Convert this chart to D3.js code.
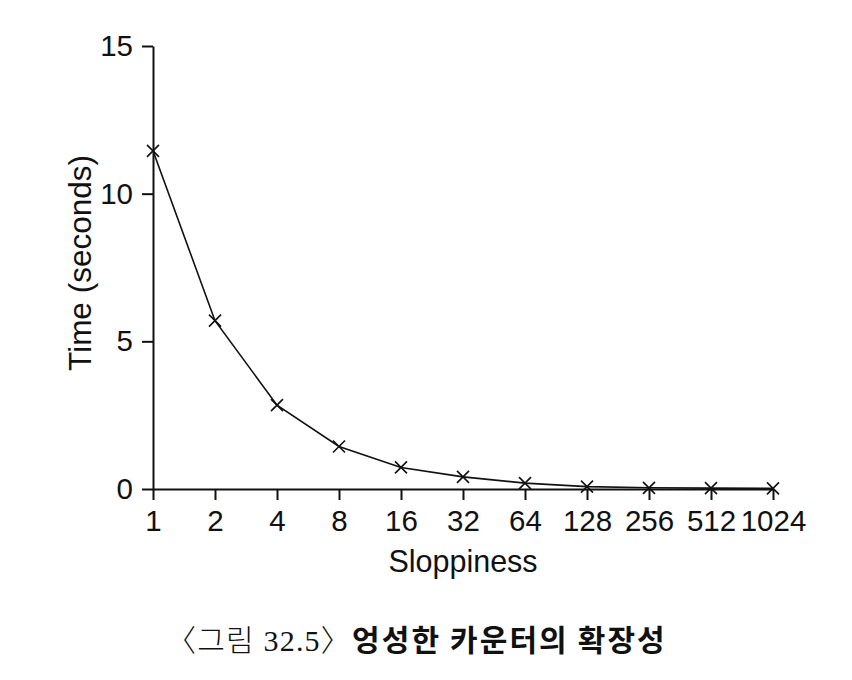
<!DOCTYPE html>
<html>
<head>
<meta charset="utf-8">
<script src="https://cdn.jsdelivr.net/npm/d3@7"></script>
<style>
  html, body { margin: 0; padding: 0; background: #fff; }
  svg { display: block; }
</style>
</head>
<body>
<svg id="chart" width="852" height="680"></svg>
<script>
const sloppiness = [1, 2, 4, 8, 16, 32, 64, 128, 256, 512, 1024];
const timeSeconds = [11.45, 5.7, 2.84, 1.44, 0.73, 0.41, 0.2, 0.08, 0.04, 0.03, 0.02];
const yTicks = [0, 5, 10, 15];
const xLabel = "Sloppiness";
const yLabel = "Time (seconds)";
const captionPrefix = "〈그림 32.5〉";
const captionTitle = "엉성한 카운터의 확장성";

const svg = d3.select("#chart");
const x = d3.scaleLog().base(2).domain([1, 1024]).range([153, 773]);
const y = d3.scaleLinear().domain([0, 15]).range([489, 46]);

const font = "'Liberation Sans', Arial, Helvetica, sans-serif";

const xAxis = svg.append("g")
  .attr("transform", `translate(0,${y(0)})`)
  .call(d3.axisBottom(x).tickValues(sloppiness).tickFormat(d3.format("d"))
    .tickSize(11).tickSizeOuter(0).tickPadding(10));
const yAxis = svg.append("g")
  .attr("transform", `translate(${x(1)},0)`)
  .call(d3.axisLeft(y).tickValues(yTicks).tickSize(11).tickSizeOuter(0).tickPadding(9));

[xAxis, yAxis].forEach(g => {
  g.selectAll("path, line").attr("stroke", "#111").attr("stroke-width", 2);
  g.selectAll("text").attr("fill", "#111").style("font-family", font).style("font-size", "29.5px");
});

const line = d3.line().x((d, i) => x(sloppiness[i])).y(d => y(d));
svg.append("path")
  .datum(timeSeconds)
  .attr("fill", "none")
  .attr("stroke", "#111")
  .attr("stroke-width", 1.6)
  .attr("d", line);

const s = 6;
svg.append("g").selectAll("path.mk")
  .data(timeSeconds)
  .join("path")
  .attr("class", "mk")
  .attr("transform", (d, i) => `translate(${x(sloppiness[i])},${y(d)})`)
  .attr("d", `M${-s},${-s}L${s},${s}M${-s},${s}L${s},${-s}`)
  .attr("stroke", "#111")
  .attr("stroke-width", 1.6)
  .attr("fill", "none");

svg.append("text")
  .attr("x", 463)
  .attr("y", 572)
  .attr("text-anchor", "middle")
  .style("font-family", font)
  .style("font-size", "30.5px")
  .attr("fill", "#111")
  .text(xLabel);

svg.append("text")
  .attr("transform", `translate(91,263) rotate(-90)`)
  .attr("text-anchor", "middle")
  .style("font-family", font)
  .style("font-size", "31.5px")
  .attr("fill", "#111")
  .text(yLabel);

const cap = svg.append("text")
  .attr("y", 651)
  .attr("text-anchor", "start")
  .attr("fill", "#111")
  .style("font-size", "30px");
cap.append("tspan")
  .attr("x", 166)
  .style("font-family", "'Liberation Serif', 'Noto Sans CJK KR', serif")
  .style("font-weight", 300)
  .style("letter-spacing", "1.2px")
  .text(captionPrefix);
cap.append("tspan")
  .attr("x", 352)
  .style("font-family", "'Noto Sans CJK KR', sans-serif")
  .style("font-weight", 700)
  .style("letter-spacing", "2.1px")
  .text(captionTitle);
</script>
</body>
</html>
